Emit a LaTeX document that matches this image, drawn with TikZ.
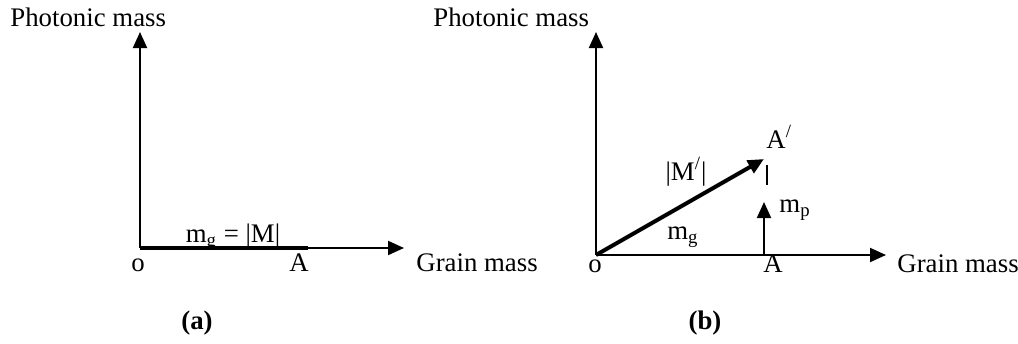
\documentclass[tikz,border=0pt]{standalone}
\usepackage{fontspec}
\setmainfont{Liberation Serif}
\usetikzlibrary{arrows.meta}
\tikzset{
  axis/.style={line width=1pt,-{Triangle[length=8pt,width=7pt]}},
  thickvec/.style={line width=2pt},
  lbl/.style={inner sep=0pt,anchor=base,font=\fontsize{13.4}{15}\selectfont},
  lbll/.style={lbl,anchor=base west},
  captxt/.style={lbl,font=\fontsize{13.4}{15}\selectfont\bfseries}
}
\begin{document}
\begin{tikzpicture}[x=0.5pt,y=-0.5pt]
\useasboundingbox (0,0) rectangle (1018,343);
% panel (a)
\coordinate (Oa) at (140,248);
\coordinate (Ya) at (140,32);
\coordinate (Xa) at (404,248);
\coordinate (Aa) at (308,248);
\draw[axis] (Oa) -- (Ya);
\draw[axis] (Oa) -- (Xa);
\draw[thickvec] (Oa) -- (Aa);
\node[lbll] (pma) at (10,26) {Photonic mass};
\node[lbll] (gma) at (416,271) {Grain mass};
\node[lbl] (oa) at (138,271) {o};
\node[lbl] (la) at (299,271) {A};
\node[lbl] (mga) at (233,242) {m\textsubscript{g} = |M|};
\node[captxt] (capa) at (197,329) {(a)};
% panel (b)
\coordinate (Ob) at (596,255);
\coordinate (Yb) at (596,32);
\coordinate (Xb) at (886,255);
\coordinate (Ab) at (764,255);
\coordinate (Pb) at (764,159);
\coordinate (Mb) at (764,202);
\coordinate (T1) at (767,165);
\coordinate (T2) at (767,185);
\draw[axis] (Ob) -- (Yb);
\draw[axis] (Ob) -- (Xb);
\draw[line width=2pt,-{Triangle[length=8pt,width=7pt]}] (Ob) -- (Pb);
\draw[axis] (Ab) -- (Mb);
\draw[line width=1pt] (T1) -- (T2);
\node[lbll] (pmb) at (433,26) {Photonic mass};
\node[lbll] (gmb) at (897,272) {Grain mass};
\node[lbl] (ob) at (595,272) {o};
\node[lbl] (lb) at (773,272) {A};
\node[lbll] (lpb) at (766,148) {A\textsuperscript{/}};
\node[lbl] (mvb) at (686,180) {|M\textsuperscript{/}|};
\node[lbl] (mgb) at (683,239) {m\textsubscript{g}};
\node[lbll] (mpb) at (779,212) {m\textsubscript{p}};
\node[captxt] (capb) at (705,329) {(b)};
\end{tikzpicture}
\end{document}
